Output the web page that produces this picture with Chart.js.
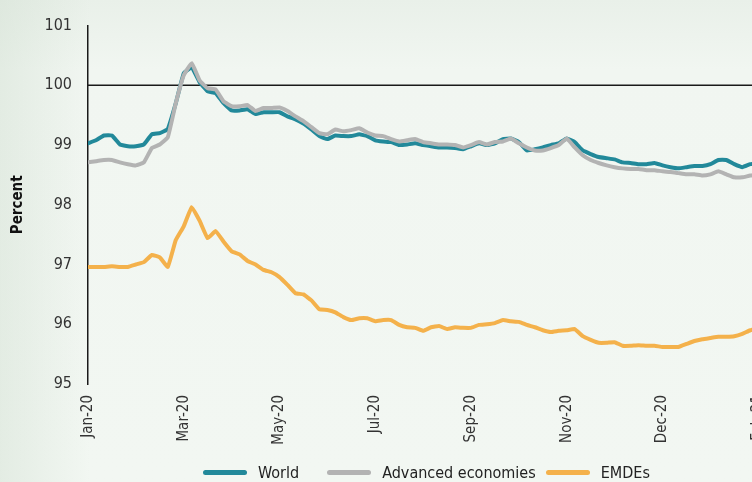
<!DOCTYPE html>
<html>
  <head>
    <title>Percent - World, Advanced economies, EMDEs</title>
    <script src="https://cdn.jsdelivr.net/npm/chart.js"></script>
    <style>
      body {
        margin: 0;
        width: 752px;
        height: 482px;
        overflow: hidden;
        position: relative;
        font-family: "Liberation Sans Narrow", "DejaVu Sans Condensed", sans-serif;
        background:
          linear-gradient(to right, rgba(205, 220, 205, 0.4) 0px, rgba(205, 220, 205, 0) 90px),
          linear-gradient(to bottom, #e9f0e9 0px, #f1f6f1 70px, #f2f7f2 100%);
      }

      #myChart {
        position: absolute;
        left: 0;
        top: 0;
      }

      .legend {
        position: absolute;
        left: 203px;
        top: 463px;
        display: flex;
        align-items: center;
        font-size: 16px;
        color: #222;
        white-space: nowrap;
      }

      .legend .item {
        display: flex;
        align-items: center;
      }

      .legend .swatch {
        display: inline-block;
        width: 44px;
        height: 5px;
        border-radius: 3px;
        margin-right: 11px;
      }
    </style>
  </head>
  <body>
    <canvas id="myChart" width="856" height="482"></canvas>
    <div class="legend" id="legend"></div>

    <script>
      // x-axis labels, one every 12 points
      const tickLabels = ["Jan-20", "Mar-20", "May-20", "Jul-20", "Sep-20", "Nov-20", "Dec-20", "Feb-21"];
      const pointsPerLabel = 12;

      const seriesNames = ["World", "Advanced economies", "EMDEs"];
      const seriesColors = ["#22899a", "#b3b3b3", "#f4b14b"];

      const world = [
        99.03, 99.08, 99.16, 99.16, 99.01, 98.98, 98.98, 99.01, 99.18, 99.2,
        99.27, 99.7, 100.2, 100.3, 100.05, 99.9, 99.87, 99.7, 99.58, 99.58,
        99.6, 99.52, 99.55, 99.55, 99.55, 99.48, 99.43, 99.36, 99.26, 99.15,
        99.1, 99.16, 99.15, 99.15, 99.18, 99.15, 99.08, 99.06, 99.05, 99.0,
        99.01, 99.03, 99.0, 98.98, 98.96, 98.96, 98.95, 98.93, 98.98, 99.03,
        99.0, 99.03, 99.1, 99.11, 99.05, 98.91, 98.93, 98.96, 99.0, 99.03,
        99.11, 99.05, 98.91, 98.85, 98.8, 98.78, 98.76, 98.71, 98.7, 98.68,
        98.68, 98.7, 98.66, 98.63, 98.61, 98.63, 98.65, 98.65, 98.68, 98.75,
        98.75, 98.68, 98.63, 98.68, 98.7
      ];

      const advanced = [
        98.71, 98.73, 98.75, 98.75, 98.71, 98.68, 98.66, 98.71, 98.95, 99.01,
        99.13, 99.7, 100.17, 100.37, 100.08, 99.95, 99.93, 99.73, 99.65, 99.65,
        99.67, 99.57, 99.62, 99.62, 99.63, 99.57, 99.48, 99.4, 99.3, 99.2,
        99.18, 99.26, 99.23, 99.25, 99.28, 99.21, 99.16, 99.15, 99.1, 99.06,
        99.08, 99.1, 99.05, 99.03, 99.01, 99.01, 99.0, 98.96, 99.0, 99.05,
        99.01, 99.05, 99.06, 99.11, 99.03, 98.96, 98.91, 98.91, 98.95, 99.0,
        99.11, 98.96, 98.83, 98.75, 98.7, 98.66, 98.63, 98.61, 98.6, 98.6,
        98.58, 98.58, 98.56, 98.55, 98.53, 98.51, 98.51, 98.49, 98.51, 98.56,
        98.51, 98.46, 98.46, 98.49, 98.5
      ];

      const emdes = [
        96.96, 96.96, 96.96, 96.97, 96.96, 96.96, 97.0, 97.04, 97.16, 97.12,
        96.96, 97.41, 97.64, 97.96, 97.73, 97.44, 97.56, 97.38, 97.22, 97.17,
        97.06, 97.0, 96.91, 96.87, 96.79, 96.66, 96.52, 96.5, 96.4, 96.25,
        96.24, 96.2, 96.12, 96.07, 96.1, 96.1, 96.05, 96.07, 96.07, 95.99,
        95.95, 95.94, 95.89, 95.95, 95.97, 95.92, 95.95, 95.94, 95.94, 95.99,
        96.0, 96.02, 96.07, 96.05, 96.04, 95.99, 95.95, 95.9, 95.87, 95.89,
        95.9, 95.92, 95.8, 95.74, 95.69, 95.69, 95.7, 95.64, 95.64, 95.65,
        95.64, 95.64, 95.62, 95.62, 95.62, 95.67, 95.72, 95.75, 95.77, 95.79,
        95.79, 95.8, 95.84, 95.9, 95.93
      ];

      const fontFamily = '"Liberation Sans Narrow", "DejaVu Sans Condensed", sans-serif';

      function toPoints(values) {
        return values.map((v, i) => ({ x: i, y: v }));
      }

      // black reference line at 100
      const refLine = {
        id: "refLine",
        beforeDatasetsDraw(chart) {
          const { ctx, chartArea, scales } = chart;
          const y = scales.y.getPixelForValue(100);
          ctx.save();
          ctx.strokeStyle = "#1a1a1a";
          ctx.lineWidth = 1.5;
          ctx.beginPath();
          ctx.moveTo(chartArea.left, y);
          ctx.lineTo(chartArea.right, y);
          ctx.stroke();
          ctx.restore();
        },
      };

      const allSeries = [world, advanced, emdes];
      const drawOrder = [1, 0, 2]; // grey line sits over the teal one

      const ctx = document.getElementById("myChart").getContext("2d");
      new Chart(ctx, {
        type: "line",
        data: {
          datasets: allSeries.map((values, i) => ({
            label: seriesNames[i],
            data: toPoints(values),
            borderColor: seriesColors[i],
            backgroundColor: seriesColors[i],
            order: drawOrder[i],
          })),
        },
        options: {
          responsive: false,
          animation: false,
          layout: { padding: { top: 25, bottom: 36, left: 0, right: 2 } },
          plugins: {
            legend: { display: false },
            tooltip: { enabled: false },
          },
          elements: {
            point: { radius: 0 },
            line: {
              borderWidth: 4,
              tension: 0.1,
              borderCapStyle: "round",
              borderJoinStyle: "round",
            },
          },
          scales: {
            x: {
              type: "linear",
              min: 0,
              max: 96,
              grid: { display: false, drawTicks: false },
              border: { display: false },
              afterBuildTicks(scale) {
                scale.ticks = tickLabels.map((_, i) => ({ value: i * pointsPerLabel }));
              },
              afterFit(scale) {
                scale.height = 62;
              },
              ticks: {
                autoSkip: false,
                minRotation: 90,
                maxRotation: 90,
                padding: 11,
                color: "#333",
                font: { family: fontFamily, size: 15 },
                callback: (v) => tickLabels[v / pointsPerLabel] ?? "",
              },
            },
            y: {
              min: 95,
              max: 101,
              grid: { display: false, drawTicks: false },
              border: { color: "#1a1a1a", width: 1.5 },
              afterFit(scale) {
                scale.width = 88;
              },
              ticks: {
                stepSize: 1,
                padding: 16,
                color: "#333",
                font: { family: fontFamily, size: 16 },
              },
              title: {
                display: true,
                text: "Percent",
                color: "#111",
                font: { family: fontFamily, size: 15, weight: "bold" },
                padding: { top: 9, bottom: 0 },
              },
            },
          },
        },
        plugins: [refLine],
      });

      // legend drawn as html under the plot
      const legendGaps = [28, 10, 0];
      const legendEl = document.getElementById("legend");
      seriesNames.forEach((name, i) => {
        const item = document.createElement("div");
        item.className = "item";
        item.style.marginRight = legendGaps[i] + "px";
        const sw = document.createElement("span");
        sw.className = "swatch";
        sw.style.background = seriesColors[i];
        const txt = document.createElement("span");
        txt.textContent = name;
        item.appendChild(sw);
        item.appendChild(txt);
        legendEl.appendChild(item);
      });
    </script>
  </body>
</html>
